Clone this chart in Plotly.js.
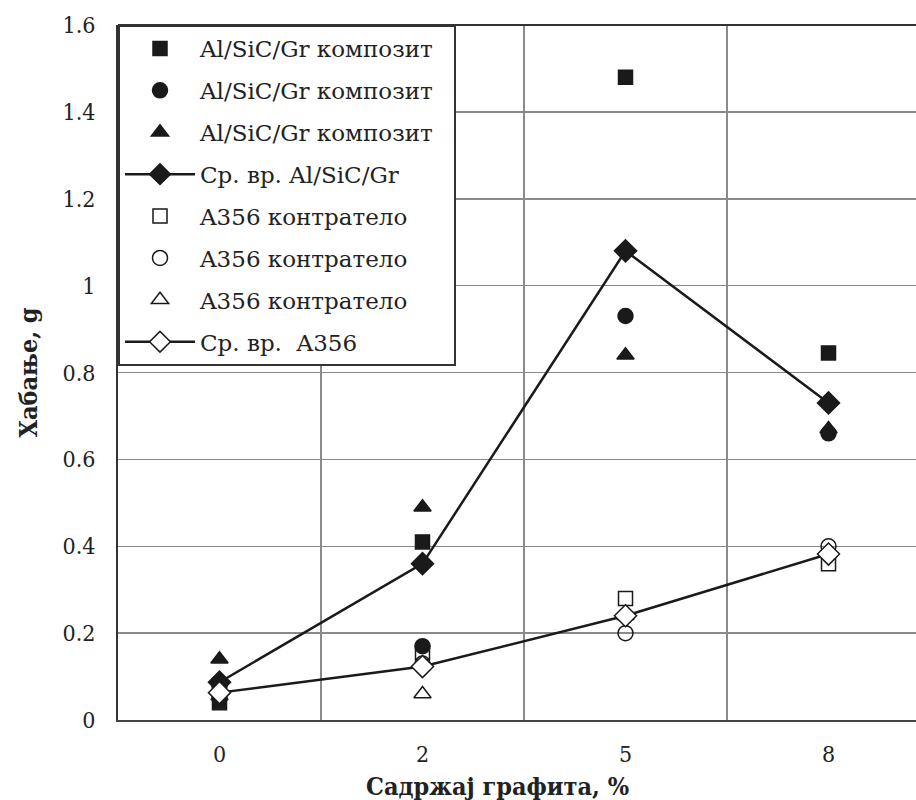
<!DOCTYPE html>
<html>
<head>
<meta charset="utf-8">
<script src="https://cdn.plot.ly/plotly-3.0.1.min.js"></script>
<style>
  html, body { margin: 0; padding: 0; background: #fff; overflow: hidden; }
  #chart { width: 916px; height: 800px; }
</style>
</head>
<body>
<div id="chart"></div>
<script>
// Graphite content categories (x axis)
const categories = ['0', '2', '5', '8'];

// Wear of the Al/SiC/Gr composite, three specimens and their mean (g)
const compositeSquare   = [0.04, 0.41, 1.48, 0.845];
const compositeCircle   = [0.08, 0.17, 0.93, 0.66];
const compositeTriangle = [0.14, 0.49, 0.84, 0.67];
const compositeMean     = [0.087, 0.36, 1.08, 0.73];

// Wear of the A356 counter-body, three specimens and their mean (g)
const counterSquare   = [0.08, 0.155, 0.28, 0.36];
const counterCircle   = [0.05, 0.13, 0.20, 0.40];
const counterTriangle = [0.055, 0.06, 0.24, 0.385];
const counterMean     = [0.063, 0.123, 0.24, 0.382];

// Legend entries (trailing no-break spaces give the legend box its right padding)
const seriesNames = [
  'Al/SiC/Gr композит\u00a0\u00a0',
  'Al/SiC/Gr композит\u00a0\u00a0',
  'Al/SiC/Gr композит\u00a0\u00a0',
  'Ср. вр. Al/SiC/Gr',
  'A356 контратело',
  'A356 контратело',
  'A356 контратело',
  'Ср. вр.\u00a0\u00a0A356'
];

const INK = '#1a1a1a';

function pointsTrace(i, y, symbol, size) {
  return {
    type: 'scatter', mode: 'markers', x: categories, y: y,
    name: seriesNames[i], legendgroup: 'g' + i,
    marker: { symbol: symbol, size: size, color: INK, line: { color: INK, width: 1.5 } },
    cliponaxis: false
  };
}

function meanTrace(i, y, filled) {
  return {
    type: 'scatter', mode: 'lines+markers', x: categories, y: y,
    name: seriesNames[i], legendgroup: 'g' + i,
    line: { color: INK, width: 2.5 },
    marker: { symbol: 'diamond', size: 17, color: filled ? INK : '#ffffff',
              line: { color: INK, width: 1.5 } },
    cliponaxis: false
  };
}

const traces = [
  pointsTrace(0, compositeSquare, 'square', 14),
  pointsTrace(1, compositeCircle, 'circle', 15),
  pointsTrace(2, compositeTriangle, 'triangle-up', 15),
  meanTrace(3, compositeMean, true),
  pointsTrace(4, counterSquare, 'square-open', 14),
  pointsTrace(5, counterCircle, 'circle-open', 15),
  pointsTrace(6, counterTriangle, 'triangle-up-open', 15),
  meanTrace(7, counterMean, false)
];

const tickFont = { family: '"DejaVu Serif Condensed", "Liberation Serif", serif', size: 23, color: '#222' };
const titleFont = { family: '"DejaVu Serif Condensed", "Liberation Serif", serif', size: 25, color: '#222', weight: 'bold' };

const layout = {
  width: 916, height: 800,
  margin: { l: 118, r: 0, t: 25, b: 80 },
  paper_bgcolor: '#fff', plot_bgcolor: '#fff',
  showlegend: true,
  legend: {
    x: 0, y: 1, xanchor: 'left', yanchor: 'top',
    bgcolor: '#fff', bordercolor: '#333', borderwidth: 2,
    font: { family: '"DejaVu Serif", serif', size: 23, color: '#222' },
    traceorder: 'grouped', tracegroupgap: 9,
    itemwidth: 70
  },
  xaxis: {
    type: 'category', range: [-0.5, 3.431],
    tickson: 'boundaries', ticks: '',
    showgrid: true, gridcolor: '#8a8a8a', gridwidth: 1.5,
    showline: true, linecolor: '#444', linewidth: 2,
    tickfont: tickFont, ticklabelstandoff: 12,
    fixedrange: true
  },
  yaxis: {
    range: [0, 1.6], dtick: 0.2, tick0: 0, ticks: '',
    showgrid: true, gridcolor: '#8a8a8a', gridwidth: 1.5,
    zeroline: false,
    showline: true, linecolor: '#333', linewidth: 2,
    tickfont: tickFont, ticklabelstandoff: 16,
    title: { text: 'Хабање, g', font: titleFont, standoff: 18 },
    fixedrange: true
  },
  shapes: [
    { type: 'line', xref: 'paper', yref: 'paper', x0: 0, x1: 1, y0: 1, y1: 1,
      line: { color: '#333', width: 2 } }
  ],
  annotations: [
    { text: 'Садржај графита, %', xref: 'paper', yref: 'paper',
      x: 0.475, y: 0, yshift: -66, xanchor: 'center', yanchor: 'middle',
      showarrow: false, font: titleFont }
  ]
};

Plotly.newPlot('chart', traces, layout, { displayModeBar: false, staticPlot: true });
</script>
</body>
</html>
